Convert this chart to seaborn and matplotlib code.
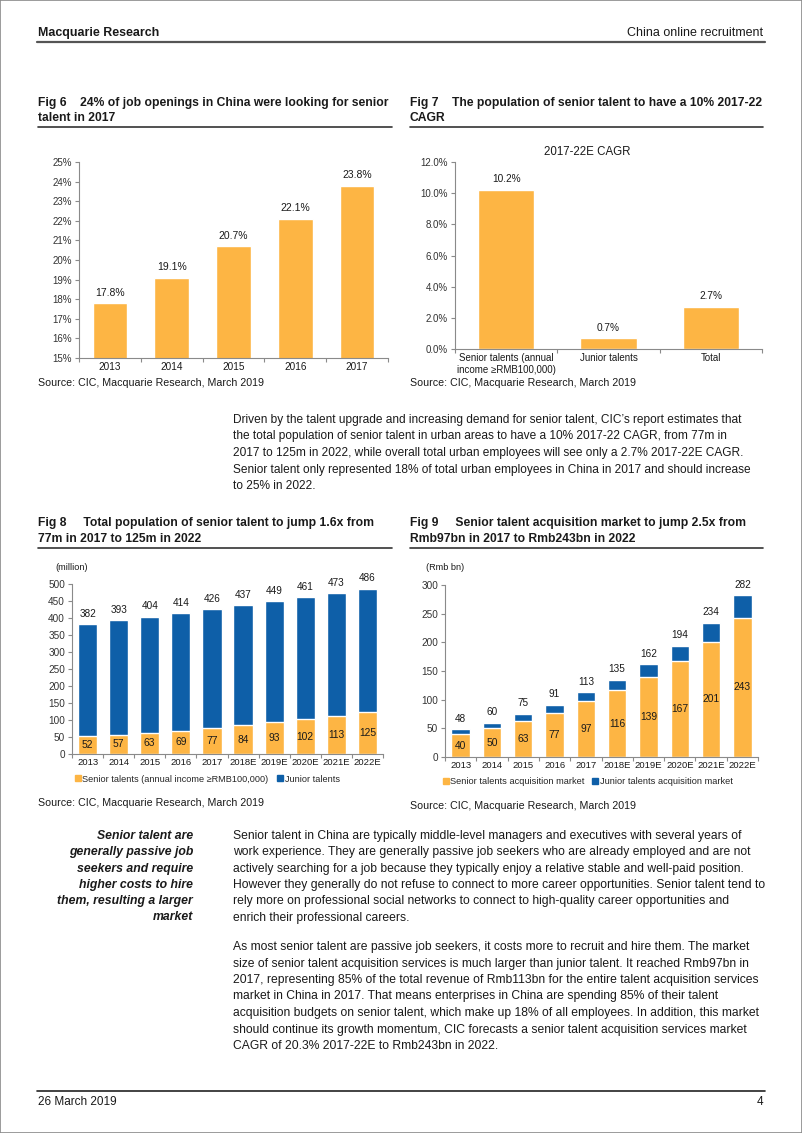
import numpy as np
import pandas as pd
import seaborn as sns
import matplotlib.pyplot as plt
from matplotlib.lines import Line2D
from matplotlib.patches import Rectangle
from matplotlib.ticker import FixedLocator

# ---- data ----
fig6_years = ['2013', '2014', '2015', '2016', '2017']
fig6_share = [17.8, 19.1, 20.7, 22.1, 23.8]

fig7_cats = ['Senior talents (annual\nincome \u2265RMB100,000)', 'Junior talents', 'Total']
fig7_cagr = [10.2, 0.7, 2.7]

years_e = ['2013', '2014', '2015', '2016', '2017', '2018E', '2019E', '2020E', '2021E', '2022E']
fig8_senior = [52, 57, 63, 69, 77, 84, 93, 102, 113, 125]
fig8_total = [382, 393, 404, 414, 426, 437, 449, 461, 473, 486]

fig9_senior = [40, 50, 63, 77, 97, 116, 139, 167, 201, 243]
fig9_total = [48, 60, 75, 91, 113, 135, 162, 194, 234, 282]

para1 = [
    "Driven by the talent upgrade and increasing demand for senior talent, CIC\u2019s report estimates that",
    "the total population of senior talent in urban areas to have a 10% 2017-22 CAGR, from 77m in",
    "2017 to 125m in 2022, while overall total urban employees will see only a 2.7% 2017-22E CAGR.",
    "Senior talent only represented 18% of total urban employees in China in 2017 and should increase",
    "to 25% in 2022.",
]
side_note = ["Senior talent are", "generally passive job", "seekers and require",
             "higher costs to hire", "them, resulting a larger", "market"]
para2 = [
    "Senior talent in China are typically middle-level managers and executives with several years of",
    "work experience. They are generally passive job seekers who are already employed and are not",
    "actively searching for a job because they typically enjoy a relative stable and well-paid position.",
    "However they generally do not refuse to connect to more career opportunities. Senior talent tend to",
    "rely more on professional social networks to connect to high-quality career opportunities and",
    "enrich their professional careers.",
]
para3 = [
    "As most senior talent are passive job seekers, it costs more to recruit and hire them. The market",
    "size of senior talent acquisition services is much larger than junior talent. It reached Rmb97bn in",
    "2017, representing 85% of the total revenue of Rmb113bn for the entire talent acquisition services",
    "market in China in 2017. That means enterprises in China are spending 85% of their talent",
    "acquisition budgets on senior talent, which make up 18% of all employees. In addition, this market",
    "should continue its growth momentum, CIC forecasts a senior talent acquisition services market",
    "CAGR of 20.3% 2017-22E to Rmb243bn in 2022.",
]

ORANGE = '#FDB544'
BLUE = '#0E5FA8'
GREY = '#8a8a8a'
INK = '#1a1a1a'
W, H = 802, 1133

sns.set_theme(style='white')
plt.rcParams['font.family'] = ['Liberation Sans', 'DejaVu Sans']
NARROW = ['Liberation Sans Narrow', 'Liberation Sans', 'DejaVu Sans']

fig = plt.figure(figsize=(W / 100, H / 100), dpi=100)
fig.patch.set_facecolor('white')


def rect(x0, y0, x1, y1):
    return [x0 / W, 1 - y1 / H, (x1 - x0) / W, (y1 - y0) / H]


def txt(x, y, s, **kw):
    kw.setdefault('color', INK)
    kw.setdefault('va', 'center')
    fig.text(x / W, 1 - y / H, s, **kw)


def hline(x0, x1, y, lw=1.2, color='#333333'):
    fig.add_artist(Line2D([x0 / W, x1 / W], [1 - y / H, 1 - y / H], lw=lw, color=color))


def style_axis(ax, n, yticks, fmt, fs=7.0, xfs=None):
    for s in ['top', 'right']:
        ax.spines[s].set_visible(False)
    for s in ['left', 'bottom']:
        ax.spines[s].set_color(GREY)
        ax.spines[s].set_linewidth(0.8)
    ax.set_xlim(-0.5, n - 0.5)
    ax.set_yticks(yticks)
    ax.set_yticklabels([fmt(v) for v in yticks], fontsize=fs, color='#333333')
    ax.tick_params(axis='y', length=3, width=0.8, color=GREY, pad=2, left=True)
    ax.tick_params(axis='x', length=0, labelsize=xfs or fs, labelcolor=INK, pad=3)
    ax.xaxis.set_minor_locator(FixedLocator(np.arange(-0.5, n, 1.0)))
    ax.tick_params(axis='x', which='minor', length=3, width=0.8, color=GREY, bottom=True)
    ax.set_xlabel('')
    ax.set_ylabel('')


# ---- page furniture ----
fig.add_artist(Rectangle((0, 0), 1, 1, transform=fig.transFigure, fill=False,
                         lw=1.2, edgecolor='#8a8a8a'))
txt(38, 33, 'Macquarie Research', fontsize=8.9, fontweight='bold', family=NARROW)
txt(763, 33, 'China online recruitment', fontsize=9.0, ha='right', family=NARROW)
hline(37, 765, 42, lw=1.6, color='#555555')

TF = 8.75  # figure title size
SF = 7.7   # source size

# ---- Fig 6 ----
txt(38, 103, 'Fig 6    24% of job openings in China were looking for senior', fontsize=TF, fontweight='bold')
txt(38, 118, 'talent in 2017', fontsize=TF, fontweight='bold')
hline(38, 392, 127)
ax6 = fig.add_axes(rect(79, 162, 388, 358))
sns.barplot(x=fig6_years, y=fig6_share, color=ORANGE, saturation=1, width=0.56,
            errorbar=None, ax=ax6)
ax6.set_ylim(15, 25)
style_axis(ax6, len(fig6_years), list(range(15, 26)), lambda v: f'{v}%', fs=7.0, xfs=7.2)
ax6.bar_label(ax6.containers[0], labels=[f'{v:.1f}%' for v in fig6_share],
              padding=4, fontsize=7.5, color=INK)
txt(38, 383, 'Source: CIC, Macquarie Research, March 2019', fontsize=SF)

# ---- Fig 7 ----
txt(410, 103, 'Fig 7    The population of senior talent to have a 10% 2017-22', fontsize=TF, fontweight='bold')
txt(410, 118, 'CAGR', fontsize=TF, fontweight='bold')
hline(410, 763, 127)
ax7 = fig.add_axes(rect(455, 162, 762, 349))
sns.barplot(x=fig7_cats, y=fig7_cagr, color=ORANGE, saturation=1, width=0.55,
            errorbar=None, ax=ax7)
ax7.set_ylim(0, 12)
style_axis(ax7, len(fig7_cats), list(range(0, 13, 2)), lambda v: f'{v:.1f}%', fs=7.0)
ax7.bar_label(ax7.containers[0], labels=[f'{v:.1f}%' for v in fig7_cagr],
              padding=4, fontsize=7.3, color=INK)
txt(587, 152, '2017-22E CAGR', fontsize=8.3, ha='center')
txt(410, 383, 'Source: CIC, Macquarie Research, March 2019', fontsize=SF)

# ---- paragraph ----
for i, line in enumerate(para1):
    txt(233, 420 + i * 16.5, line, fontsize=8.6)

# ---- Fig 8 ----
txt(38, 523, 'Fig 8     Total population of senior talent to jump 1.6x from', fontsize=TF, fontweight='bold')
txt(38, 539, '77m in 2017 to 125m in 2022', fontsize=TF, fontweight='bold')
hline(38, 392, 548)
ax8 = fig.add_axes(rect(72, 584, 383, 754))
sns.barplot(x=years_e, y=fig8_total, color=BLUE, saturation=1, width=0.62,
            errorbar=None, ax=ax8)
sns.barplot(x=years_e, y=fig8_senior, color=ORANGE, saturation=1, width=0.62,
            errorbar=None, ax=ax8)
ax8.set_ylim(0, 500)
style_axis(ax8, len(years_e), list(range(0, 501, 50)), lambda v: f'{v}', fs=7.2, xfs=6.8)
ax8.bar_label(ax8.containers[0], labels=[str(v) for v in fig8_total],
              padding=4, fontsize=7.2, color=INK)
ax8.bar_label(ax8.containers[1], labels=[str(v) for v in fig8_senior],
              label_type='center', fontsize=7.4, color=INK)
txt(55, 567, '(million)', fontsize=6.6)
h8 = [Line2D([], [], ls='', marker='s', ms=4.5, color=ORANGE),
      Line2D([], [], ls='', marker='s', ms=4.5, color=BLUE)]
ax8.legend(h8, ['Senior talents (annual income \u2265RMB100,000)', 'Junior talents'],
           loc='center left', bbox_to_anchor=((75 - 72) / 311, -(779 - 754) / 170),
           ncol=2, frameon=False, fontsize=6.6, handlelength=0.6, handletextpad=0.2,
           columnspacing=1.0, borderpad=0, borderaxespad=0)
txt(38, 803, 'Source: CIC, Macquarie Research, March 2019', fontsize=SF)

# ---- Fig 9 ----
txt(410, 523, 'Fig 9     Senior talent acquisition market to jump 2.5x from', fontsize=TF, fontweight='bold')
txt(410, 539, 'Rmb97bn in 2017 to Rmb243bn in 2022', fontsize=TF, fontweight='bold')
hline(410, 763, 548)
ax9 = fig.add_axes(rect(445, 585, 758, 757))
sns.barplot(x=years_e, y=fig9_total, color=BLUE, saturation=1, width=0.59,
            errorbar=None, ax=ax9)
sns.barplot(x=years_e, y=fig9_senior, color=ORANGE, saturation=1, width=0.59,
            errorbar=None, ax=ax9)
ax9.set_ylim(0, 300)
style_axis(ax9, len(years_e), list(range(0, 301, 50)), lambda v: f'{v}', fs=7.2, xfs=6.8)
ax9.bar_label(ax9.containers[0], labels=[str(v) for v in fig9_total],
              padding=4, fontsize=7.2, color=INK)
ax9.bar_label(ax9.containers[1], labels=[str(v) for v in fig9_senior],
              label_type='center', fontsize=7.4, color=INK)
txt(426, 567, '(Rmb bn)', fontsize=6.6)
h9 = [Line2D([], [], ls='', marker='s', ms=4.5, color=ORANGE),
      Line2D([], [], ls='', marker='s', ms=4.5, color=BLUE)]
ax9.legend(h9, ['Senior talents acquisition market', 'Junior talents acquisition market'],
           loc='center left', bbox_to_anchor=((443 - 445) / 313, -(782 - 757) / 172),
           ncol=2, frameon=False, fontsize=6.7, handlelength=0.6, handletextpad=0.2,
           columnspacing=0.8, borderpad=0, borderaxespad=0)
txt(410, 806, 'Source: CIC, Macquarie Research, March 2019', fontsize=SF)

# ---- lower text ----
for i, line in enumerate(side_note):
    txt(193, 836 + i * 16.3, line, fontsize=8.8, ha='right', fontweight='bold',
        fontstyle='italic', family=NARROW)
for i, line in enumerate(para2):
    txt(233, 836 + i * 16.3, line, fontsize=8.7, family=NARROW)
for i, line in enumerate(para3):
    txt(233, 947 + i * 16.5, line, fontsize=8.7, family=NARROW)

# ---- footer ----
hline(37, 765, 1091, lw=1.2, color='#222222')
txt(38, 1102, '26 March 2019', fontsize=8.5, family=NARROW)
txt(763, 1102, '4', fontsize=8.5, ha='right', family=NARROW)

fig.savefig('out.png', dpi=100, facecolor='white')
